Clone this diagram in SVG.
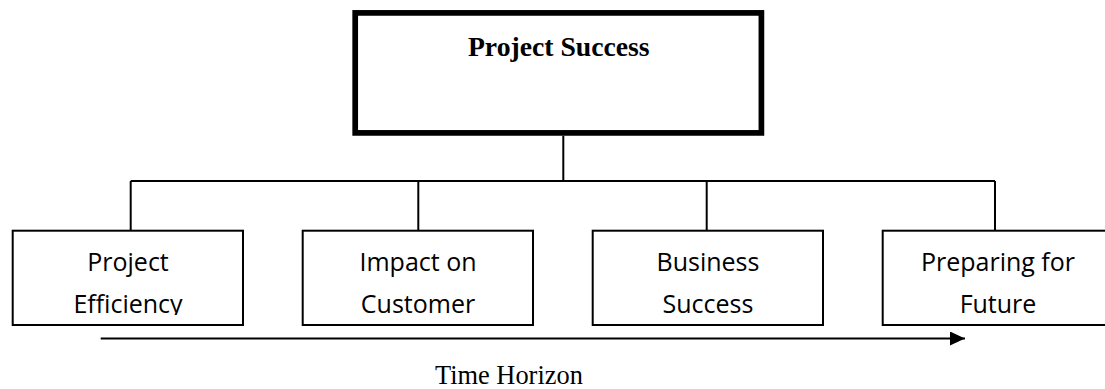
<svg xmlns="http://www.w3.org/2000/svg" width="1105" height="389" viewBox="0 0 1105 389">
  <style>
    .box { fill: #ffffff; stroke: #000000; stroke-width: 2; }
    .top { fill: #ffffff; stroke: #000000; stroke-width: 5.7; }
    .lbl { font-family: "Open Sans", "Liberation Sans", sans-serif; font-size: 25px; fill: #000000; text-anchor: middle; }
    .title { font-family: "Liberation Serif", "Times New Roman", serif; font-size: 27.7px; font-weight: bold; fill: #000000; text-anchor: middle; }
    .axis { font-family: "Liberation Serif", "Times New Roman", serif; font-size: 26.4px; fill: #000000; }
    .conn { fill: none; stroke: #000000; stroke-width: 2; }
  </style>
  <defs>
    <clipPath id="textclip">
      <rect x="0" y="0" width="1105" height="315"/>
    </clipPath>
    <marker id="arrow" markerWidth="15" markerHeight="14" refX="15" refY="7" orient="auto" markerUnits="userSpaceOnUse">
      <path d="M0,0 L15,7 L0,14 Z" fill="#000000"/>
    </marker>
  </defs>
  <rect width="1105" height="389" fill="#ffffff"/>

  <g id="connectors">
    <line class="conn" x1="563.3" y1="135.7" x2="563.3" y2="181"/>
    <line class="conn" x1="130.7" y1="181" x2="995" y2="181"/>
    <line class="conn" x1="130.7" y1="181" x2="130.7" y2="230"/>
    <line class="conn" x1="418.3" y1="181" x2="418.3" y2="230"/>
    <line class="conn" x1="706.7" y1="181" x2="706.7" y2="230"/>
    <line class="conn" x1="995" y1="181" x2="995" y2="230"/>
    <line class="conn" x1="100.7" y1="338.5" x2="965" y2="338.5" marker-end="url(#arrow)"/>
  </g>

  <g id="node-project-success">
    <rect class="top" x="355.2" y="12.9" width="406.2" height="120"/>
    <text class="title" x="558.8" y="56">Project Success</text>
  </g>

  <g id="node-project-efficiency">
    <rect class="box" x="12.7" y="230.7" width="230.3" height="94.3"/>
    <g clip-path="url(#textclip)">
      <text class="lbl" x="128" y="271">Project</text>
      <text class="lbl" x="128" y="312.5">Efficiency</text>
    </g>
  </g>

  <g id="node-impact-on-customer">
    <rect class="box" x="302.7" y="230.7" width="230.3" height="94.3"/>
    <g clip-path="url(#textclip)">
      <text class="lbl" x="418" y="271">Impact on</text>
      <text class="lbl" x="418" y="312.5">Customer</text>
    </g>
  </g>

  <g id="node-business-success">
    <rect class="box" x="592.7" y="230.7" width="230.3" height="94.3"/>
    <g clip-path="url(#textclip)">
      <text class="lbl" x="708" y="271">Business</text>
      <text class="lbl" x="708" y="312.5">Success</text>
    </g>
  </g>

  <g id="node-preparing-for-future">
    <rect class="box" x="882.7" y="230.7" width="230.3" height="94.3"/>
    <g clip-path="url(#textclip)">
      <text class="lbl" x="998" y="271">Preparing for</text>
      <text class="lbl" x="998" y="312.5">Future</text>
    </g>
  </g>

  <text class="axis" x="435" y="384">Time Horizon</text>
</svg>
